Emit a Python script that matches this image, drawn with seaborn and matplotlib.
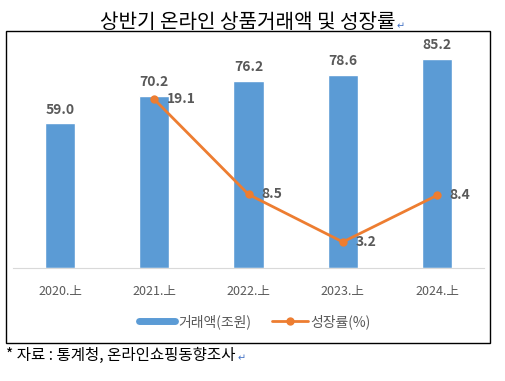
import numpy as np
import matplotlib
matplotlib.use("Agg")
import matplotlib.pyplot as plt
import seaborn as sns
from matplotlib.patches import Rectangle
from matplotlib.lines import Line2D

# 데이터
periods = ['2020.上', '2021.上', '2022.上', '2023.上', '2024.上']
amounts = [59.0, 70.2, 76.2, 78.6, 85.2]
growth_periods = ['2021.上', '2022.上', '2023.上', '2024.上']
growth = [19.1, 8.5, 3.2, 8.4]

bar_color = '#5B9BD5'
line_color = '#ED7D31'
text_gray = '#595959'

sns.set_style('white')
plt.rcParams['font.family'] = ['Noto Sans CJK KR', 'DejaVu Sans']

fig = plt.figure(figsize=(5.05, 3.81), dpi=100)
ax = fig.add_axes([0.0257, 0.2966, 0.933, 0.598])

sns.barplot(x=periods, y=amounts, color=bar_color, width=0.32, saturation=1, ax=ax)
ax.set_ylim(0, 93)
for i, v in enumerate(amounts):
    ax.annotate(f'{v:.1f}', (i, v), xytext=(0, 5), textcoords='offset points',
                ha='center', va='bottom', fontsize=10, fontweight='bold', color=text_gray)

# 성장률 (보조축)
ax2 = ax.twinx()
gx = [periods.index(p) for p in growth_periods]
sns.lineplot(x=gx, y=growth, ax=ax2, color=line_color, linewidth=2, marker='o',
             markersize=6, markeredgewidth=0)
ax2.set_ylim(0.3, 25.7)
for x, v in zip(gx, growth):
    ax2.annotate(f'{v:.1f}', (x, v), xytext=(9, 0), textcoords='offset points',
                 ha='left', va='center', fontsize=10, fontweight='bold', color=text_gray)
ax.set_xlim(-0.5, 4.5)

for a in (ax, ax2):
    a.set_yticks([])
    a.set_ylabel('')
    for s in ['top', 'right', 'left']:
        a.spines[s].set_visible(False)
    a.spines['bottom'].set_color('#D9D9D9')
ax2.spines['bottom'].set_visible(False)
ax.tick_params(axis='x', length=0, pad=12, labelsize=9, labelcolor=text_gray)

handles = [Line2D([0], [0], color=bar_color, lw=5),
           Line2D([0], [0], color=line_color, lw=2, marker='o', markersize=5)]
fig.legend(handles, ['거래액(조원)', '성장률(%)'], loc='center', bbox_to_anchor=(0.505, 0.155),
           ncol=2, frameon=False, fontsize=10, labelcolor=text_gray, handlelength=2.6,
           columnspacing=1.5, handletextpad=0.2)

# 테두리
fig.add_artist(Rectangle((0.012, 0.0997), 0.958, 0.819, transform=fig.transFigure,
                         fill=False, edgecolor='black', lw=1))

fig.text(0.49, 0.942, '상반기 온라인 상품거래액 및 성장률', ha='center', va='center',
         fontsize=14.5, color='black')
fig.text(0.786, 0.932, '↵', ha='left', va='center', fontsize=7, color='#4472C4',
         family=['DejaVu Sans'])
fig.text(0.012, 0.068, '* 자료 : 통계청, 온라인쇼핑동향조사', ha='left', va='center',
         fontsize=11.2, color='black')
fig.text(0.471, 0.06, '↵', ha='left', va='center', fontsize=7, color='#4472C4',
         family=['DejaVu Sans'])

fig.savefig('out.png', dpi=100)
